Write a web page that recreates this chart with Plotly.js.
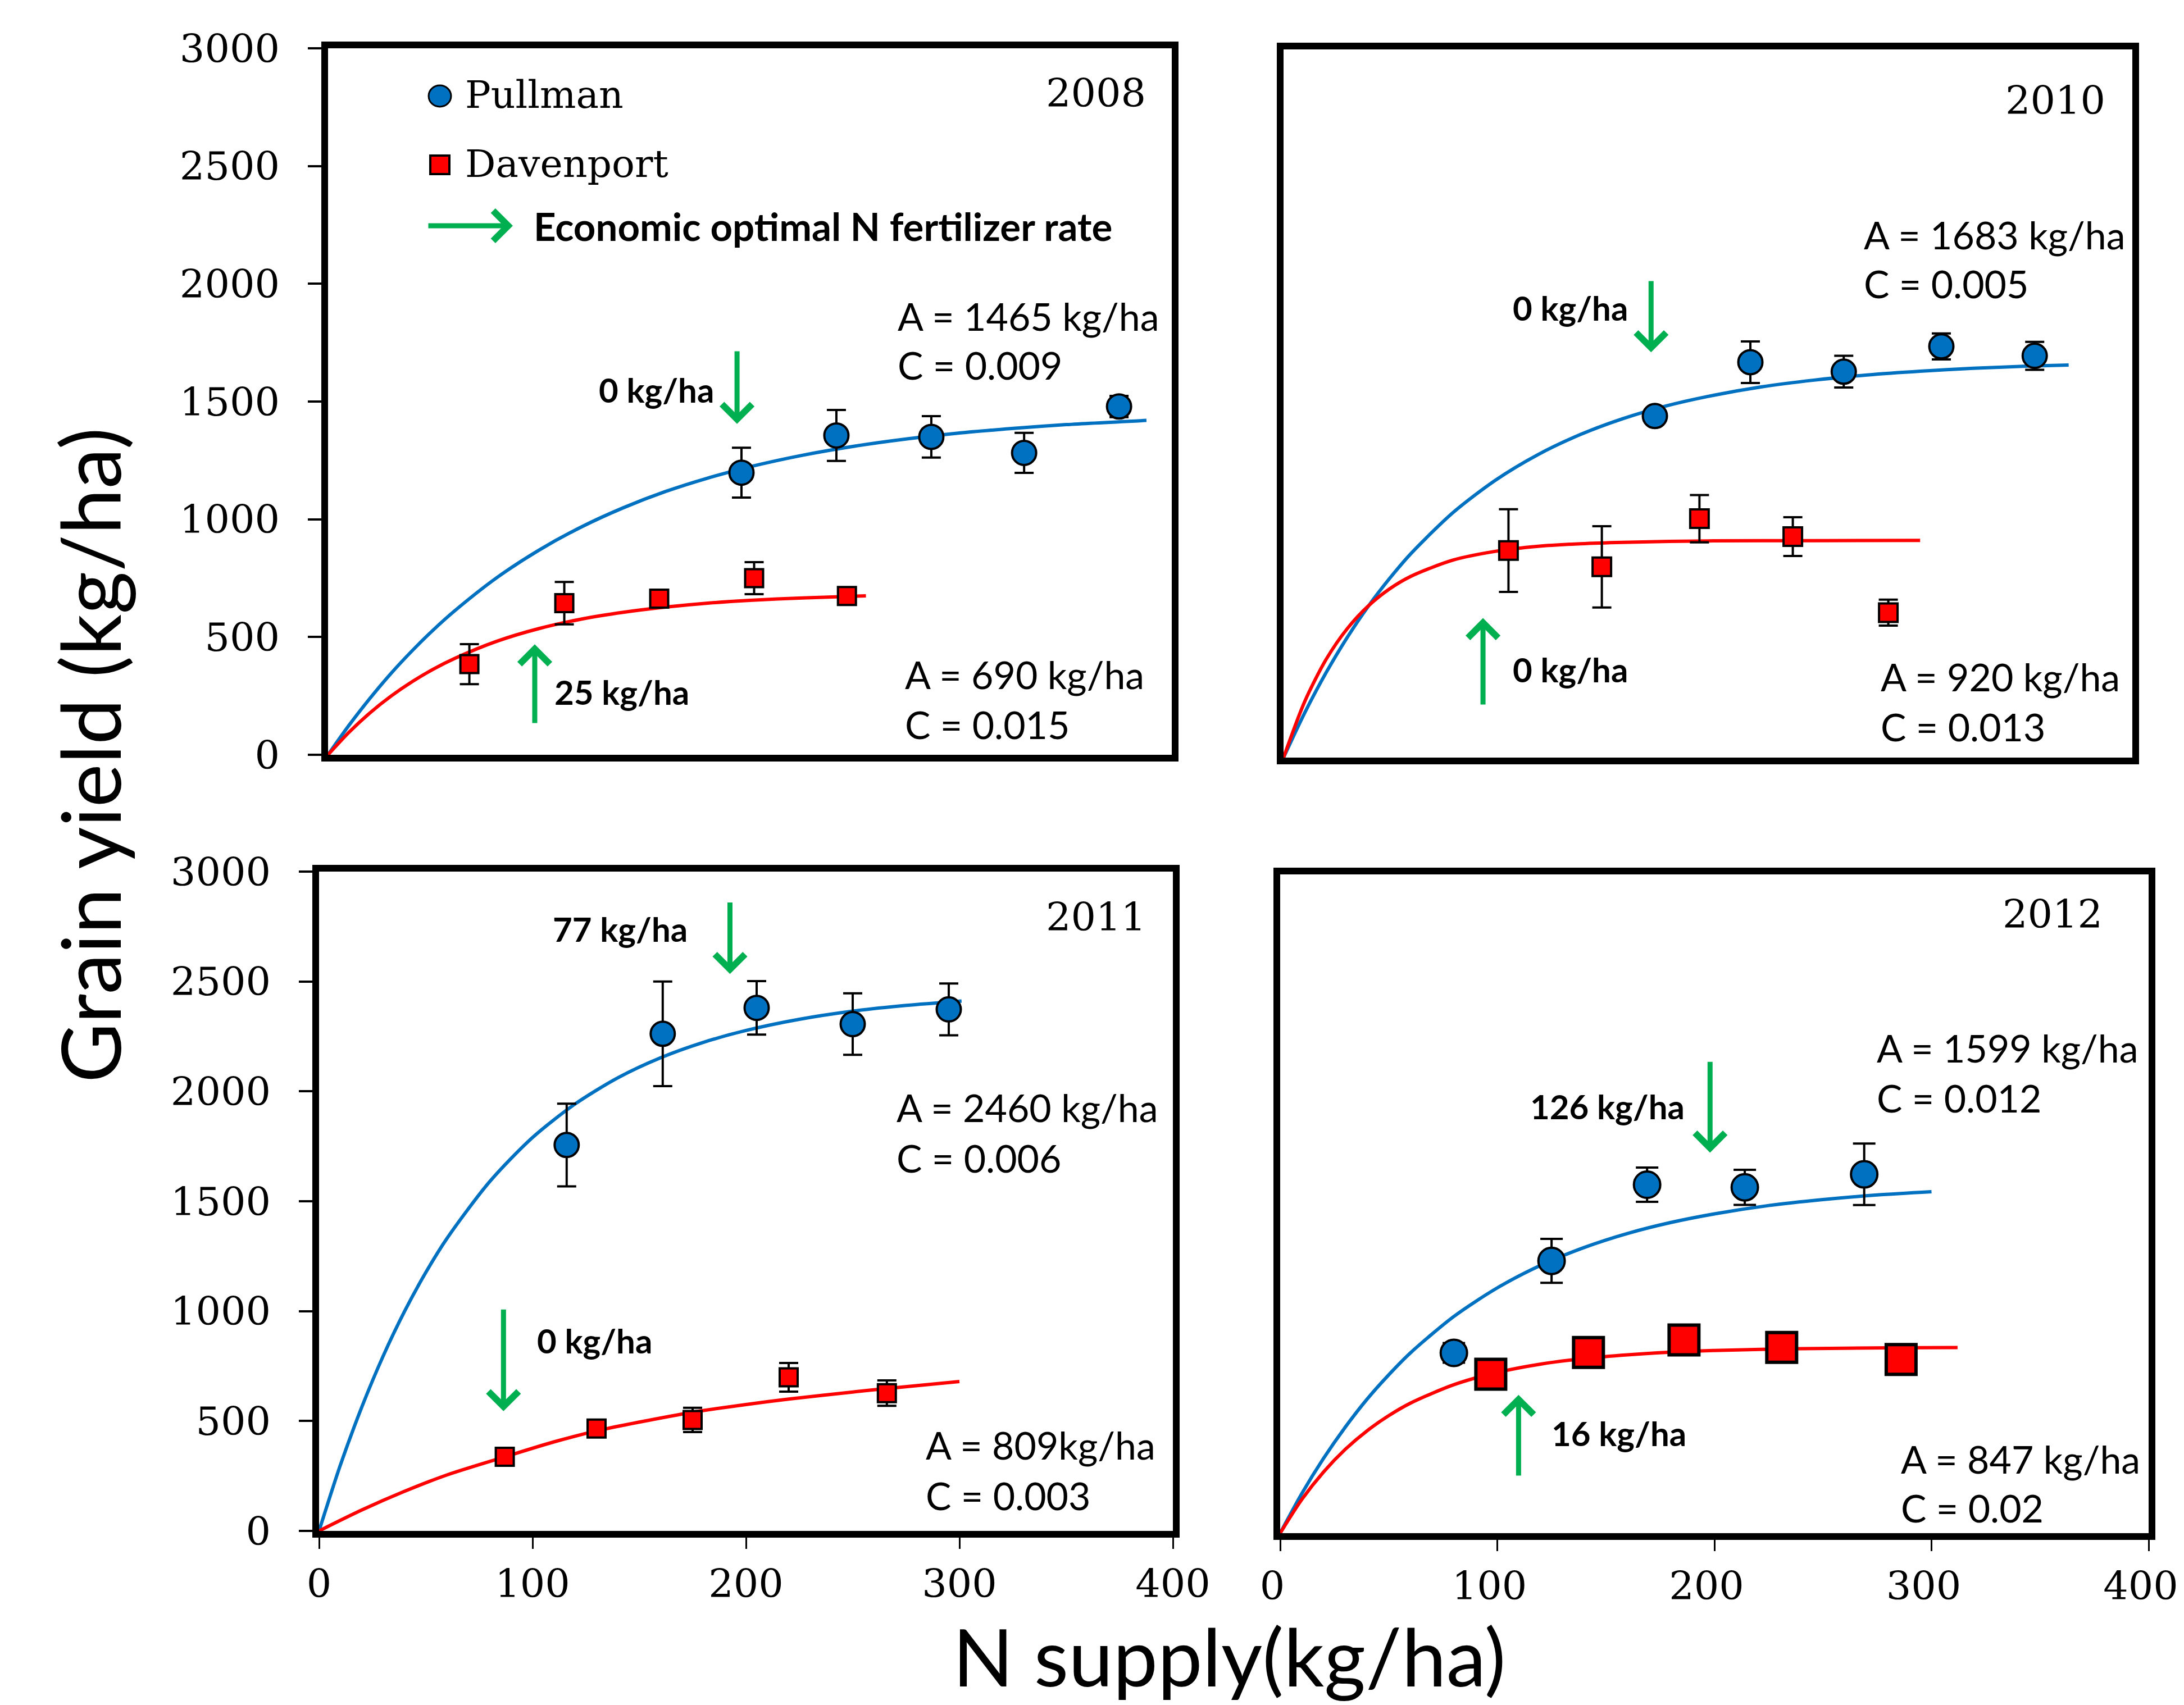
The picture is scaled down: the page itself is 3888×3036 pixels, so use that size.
<!DOCTYPE html>
<html>
<head>
<meta charset="utf-8">
<script src="https://cdn.plot.ly/plotly-3.0.1.min.js"></script>
<style>html,body{margin:0;padding:0;background:#ffffff;}</style>
</head>
<body>
<div id="chart" style="width:3888px;height:3036px;"></div>
<script>
// ---------------- DATA ----------------
const xTickVals = [0, 100, 200, 300, 400];
const yTickVals = [0, 500, 1000, 1500, 2000, 2500, 3000];
const siteNames = ['Pullman', 'Davenport'];
const years = ['2008', '2010', '2011', '2012'];

// 2008
const pul2008N = [196, 241, 286, 330, 375];
const pul2008Y = [1198, 1356, 1350, 1282, 1479];
const pul2008E = [106, 108, 88, 85, 45];
const dav2008N = [67, 112, 157, 202, 246];
const dav2008Y = [385, 644, 663, 750, 674];
const dav2008E = [85, 90, 20, 68, 15];
const fitPul2008N = [0,10,20,30,40,50,60,80,100,120,140,160,180,200,225,250,275,300,325,350,388];
const fitPul2008Y = [0,126,241,347,443,531,611,752,869,967,1049,1118,1175,1223,1272,1311,1342,1367,1386,1402,1420];
const fitDav2008N = [0,10,20,30,40,50,60,80,100,120,140,160,180,200,225,255];
const fitDav2008Y = [0,96,179,250,311,364,409,482,536,576,605,627,644,656,666,675];

// 2010
const pul2010N = [175, 220, 264, 310, 354];
const pul2010Y = [1447, 1675, 1635, 1742, 1702];
const pul2010E = [0, 88, 67, 55, 59];
const dav2010N = [106, 150, 196, 240, 285];
const dav2010Y = [877, 808, 1012, 936, 614];
const dav2010E = [175, 172, 100, 82, 55];
const fitPul2010N = [0,10,20,30,40,50,60,80,100,120,140,160,180,200,225,250,275,300,325,350,370];
const fitPul2010Y = [0,190,359,509,642,759,864,1039,1176,1284,1369,1436,1489,1530,1570,1599,1621,1637,1649,1658,1663];
const fitDav2010N = [0,10,20,30,40,50,60,80,100,120,140,160,200,250,300];
const fitDav2010Y = [0,238,415,546,643,715,768,837,874,895,906,912,918,919,920];

// 2011
const pul2011N = [116, 161, 205, 250, 295];
const pul2011Y = [1756, 2262, 2380, 2306, 2373];
const pul2011E = [188, 238, 122, 140, 118];
const dav2011N = [87, 130, 175, 220, 266];
const dav2011Y = [337, 466, 505, 699, 627];
const dav2011E = [0, 20, 55, 65, 58];
const fitPul2011N = [0,10,20,30,40,50,60,80,100,120,140,160,180,200,225,250,275,301];
const fitPul2011Y = [0,300,563,795,998,1176,1332,1590,1790,1943,2062,2153,2223,2277,2328,2365,2391,2411];
const fitDav2011N = [0,20,40,60,87,110,130,150,175,200,220,250,266,300];
const fitDav2011Y = [0,95,180,255,337,405,455,495,540,575,600,632,648,680];

// 2012
const pul2012N = [80, 125, 169, 214, 269];
const pul2012Y = [821, 1240, 1587, 1575, 1634];
const pul2012E = [45, 100, 78, 80, 140];
const dav2012N = [97, 142, 186, 231, 286];
const dav2012Y = [724, 823, 880, 846, 791];
const dav2012E = [0, 15, 0, 25, 0];
const fitPul2012N = [0,10,20,30,40,50,60,80,100,120,140,160,180,200,225,250,275,300];
const fitPul2012Y = [0,181,341,483,610,721,821,987,1117,1220,1301,1365,1415,1454,1492,1519,1540,1555];
const fitDav2012N = [0,10,20,30,40,50,60,80,100,120,140,160,180,200,240,280,312];
const fitDav2012Y = [0,154,279,382,466,535,592,676,732,770,795,812,824,832,840,844,845];

// fit parameter labels and economic optimum N labels
const params2008 = ['A = 1465 kg/ha', 'C = 0.009', 'A = 690 kg/ha', 'C = 0.015'];
const params2010 = ['A = 1683 kg/ha', 'C = 0.005', 'A = 920 kg/ha', 'C = 0.013'];
const params2011 = ['A = 2460 kg/ha', 'C = 0.006', 'A = 809kg/ha', 'C = 0.003'];
const params2012 = ['A = 1599 kg/ha', 'C = 0.012', 'A = 847 kg/ha', 'C = 0.02'];
const eonr2008 = ['0 kg/ha', '25 kg/ha'];
const eonr2010 = ['0 kg/ha', '0 kg/ha'];
const eonr2011 = ['77 kg/ha', '0 kg/ha'];
const eonr2012 = ['126 kg/ha', '16 kg/ha'];
const legendArrowText = 'Economic optimal N fertilizer rate';

// ---------------- STYLE / LAYOUT ----------------
const W = 3888, H = 3036;
const px = v => v / W;
const py = v => 1 - v / H;
const BLUE = '#0070C0', RED = '#FF0000', GREEN = '#00B050';
const SERIF = 'DejaVu Serif';
const SANS = 'Lato';
const LW = 12, HALF = 6;

const data = [];
function addPanel(n, fitP, fitD, ptsP, ptsD, cSize, sSize, sLine, capW) {
  const xa = 'x' + (n === 1 ? '' : n), ya = 'y' + (n === 1 ? '' : n);
  data.push({type:'scatter', mode:'lines', x: fitP[0], y: fitP[1], xaxis: xa, yaxis: ya,
    line:{color: BLUE, width: 6, shape:'spline', smoothing: 0.8}, hoverinfo:'skip', showlegend:false});
  data.push({type:'scatter', mode:'lines', x: fitD[0], y: fitD[1], xaxis: xa, yaxis: ya,
    line:{color: RED, width: 6, shape:'spline', smoothing: 0.8}, hoverinfo:'skip', showlegend:false});
  data.push({type:'scatter', mode:'markers', name: siteNames[0], x: ptsP[0], y: ptsP[1], xaxis: xa, yaxis: ya,
    error_y:{type:'data', array: ptsP[2], visible:true, color:'#000000', thickness:4, width:capW},
    marker:{symbol:'circle', size:cSize, color: BLUE, line:{color:'#000000', width:4}}, showlegend:false});
  data.push({type:'scatter', mode:'markers', name: siteNames[1], x: ptsD[0], y: ptsD[1], xaxis: xa, yaxis: ya,
    error_y:{type:'data', array: ptsD[2], visible:true, color:'#000000', thickness:4, width:capW},
    marker:{symbol:'square', size:sSize, color: RED, line:{color:'#000000', width:sLine}}, showlegend:false});
}
addPanel(1, [fitPul2008N, fitPul2008Y], [fitDav2008N, fitDav2008Y], [pul2008N, pul2008Y, pul2008E], [dav2008N, dav2008Y, dav2008E], 43, 32, 4, 17);
addPanel(2, [fitPul2010N, fitPul2010Y], [fitDav2010N, fitDav2010Y], [pul2010N, pul2010Y, pul2010E], [dav2010N, dav2010Y, dav2010E], 43, 33, 4, 17);
addPanel(3, [fitPul2011N, fitPul2011Y], [fitDav2011N, fitDav2011Y], [pul2011N, pul2011Y, pul2011E], [dav2011N, dav2011Y, dav2011E], 43, 32, 4, 17);
addPanel(4, [fitPul2012N, fitPul2012Y], [fitDav2012N, fitDav2012Y], [pul2012N, pul2012Y, pul2012E], [dav2012N, dav2012Y, dav2012E], 47, 53, 6, 20);

// panel boxes (line centres in pixels): [left, right, top, bottom]
const boxes = [
  [578, 2092, 80, 1350],
  [2279, 3802, 82, 1355],
  [562, 2094, 1546, 2732],
  [2273, 3831, 1551, 2736]
];
const tickFont = {family: SERIF, size: 70, color: '#000000'};

function xAxis(b, showLabels, anchor, shift) {
  return {domain:[px(b[0] + HALF), px(b[1] - HALF)], anchor: anchor, range:[0, 400],
    showline:true, mirror:true, linecolor:'#000000', linewidth:LW, showgrid:false, zeroline:false,
    tickmode:'array', tickvals: xTickVals, ticktext: xTickVals.map(String),
    ticks: showLabels ? 'outside' : '', ticklen: 20, tickwidth: 3, tickcolor:'#000000',
    showticklabels: showLabels, tickfont: tickFont, ticklabelstandoff: 2, ticklabelshift: shift || 0,
    ticklabeloverflow: 'allow', fixedrange:true};
}
function yAxis(b, showLabels, anchor) {
  return {domain:[py(b[3] - HALF), py(b[2] + HALF)], anchor: anchor, range:[0, 3000],
    showline:true, mirror:true, linecolor:'#000000', linewidth:LW, showgrid:false, zeroline:false,
    tickmode:'array', tickvals: yTickVals, ticktext: yTickVals.map(String),
    ticks: showLabels ? 'outside' : '', ticklen: 24, tickwidth: 4, tickcolor:'#000000',
    showticklabels: showLabels, tickfont: tickFont, ticklabelstandoff: 36, fixedrange:true};
}

const ann = [];
function txt(ref, x, y, text, anchor, font) {
  ann.push({xref: 'x' + ref, yref: 'y' + ref, x: x, y: y, text: text, showarrow:false,
    xanchor: anchor, yanchor:'middle', font: font});
}
function arrow(ref, x, yHead, yTail) {
  ann.push({xref: 'x' + ref, yref: 'y' + ref, x: x, y: yHead, ax: x, ay: yTail,
    axref: 'x' + ref, ayref: 'y' + ref, text:'', showarrow:true, arrowhead:4, arrowsize:1.15,
    arrowwidth:9, arrowcolor: GREEN, standoff:0, startstandoff:0});
}
const yearFont = {family: SERIF, size: 70, color:'#000000'};
const parFont = {family: SANS, size: 68, color:'#000000'};
const boldFont = {family: SANS, size: 60, color:'#000000', weight: 'bold'};

// 2008
txt('', 388.4, 2809, years[0], 'right', yearFont);
txt('', 269.6, 1863, params2008[0], 'left', parFont);
txt('', 269.6, 1656, params2008[1], 'left', parFont);
txt('', 273, 342, params2008[2], 'left', parFont);
txt('', 273, 131, params2008[3], 'left', parFont);
txt('', 183.6, 1550, eonr2008[0], 'right', boldFont);
txt('', 106.7, 268, eonr2008[1], 'left', boldFont);
arrow('', 193.9, 1405, 1717);
arrow('', 98, 469, 131);
// 2010
txt('2', 387.9, 2783, years[1], 'right', yearFont);
txt('2', 272.9, 2215, params2010[0], 'left', parFont);
txt('2', 272.9, 2009, params2010[1], 'left', parFont);
txt('2', 280.8, 343, params2010[2], 'left', parFont);
txt('2', 280.8, 133, params2010[3], 'left', parFont);
txt('2', 107.6, 1906, eonr2010[0], 'left', boldFont);
txt('2', 107.6, 374, eonr2010[1], 'left', boldFont);
arrow('2', 173.2, 1717, 2022);
arrow('2', 94, 591, 221);
// 2011
txt('3', 388, 2794, years[2], 'right', yearFont);
txt('3', 270, 1927, params2011[0], 'left', parFont);
txt('3', 270, 1699, params2011[1], 'left', parFont);
txt('3', 283.6, 391, params2011[2], 'left', parFont);
txt('3', 283.6, 163, params2011[3], 'left', parFont);
txt('3', 109, 2740, eonr2011[0], 'left', boldFont);
txt('3', 101.7, 867, eonr2011[1], 'left', boldFont);
arrow('3', 192.5, 2534, 2863);
arrow('3', 86.4, 545, 1011);
// 2012
txt('4', 379.3, 2819, years[3], 'right', yearFont);
txt('4', 274.3, 2212, params2012[0], 'left', parFont);
txt('4', 274.3, 1984, params2012[1], 'left', parFont);
txt('4', 285.3, 340, params2012[2], 'left', parFont);
txt('4', 285.3, 117, params2012[3], 'left', parFont);
txt('4', 114.5, 1944, eonr2012[0], 'left', boldFont);
txt('4', 124.4, 456, eonr2012[1], 'left', boldFont);
arrow('4', 198, 1733, 2150);
arrow('4', 109.8, 630, 258);

// legend (inside 2008 panel)
const legFont = {family: SERIF, size: 68, color:'#000000'};
ann.push({xref:'paper', yref:'paper', x: px(826), y: py(168), text: siteNames[0], showarrow:false, xanchor:'left', yanchor:'middle', font: legFont});
ann.push({xref:'paper', yref:'paper', x: px(826), y: py(291), text: siteNames[1], showarrow:false, xanchor:'left', yanchor:'middle', font: legFont});
ann.push({xref:'paper', yref:'paper', x: px(948), y: py(403), text: legendArrowText, showarrow:false, xanchor:'left', yanchor:'middle',
  font:{family: SANS, size: 69, color:'#000000', weight:'bold'}});
ann.push({xref:'paper', yref:'paper', x: px(913), y: py(402), ax: -152, ay: 0, text:'', showarrow:true,
  arrowhead:4, arrowsize:1.15, arrowwidth:9, arrowcolor: GREEN, standoff:0, startstandoff:0});

// axis titles
ann.push({xref:'paper', yref:'paper', x: px(158), y: py(1345), text:'Grain yield (kg/ha)', textangle:-90,
  showarrow:false, xanchor:'center', yanchor:'middle', font:{family: SANS, size: 146, color:'#000000'}});
ann.push({xref:'paper', yref:'paper', x: px(2188), y: py(2948), text:'N supply(kg/ha)',
  showarrow:false, xanchor:'center', yanchor:'middle', font:{family: SANS, size: 142, color:'#000000'}});

const shapes = [
  {type:'circle', xref:'paper', yref:'paper', x0: px(763), x1: px(803), y0: py(190), y1: py(152),
    fillcolor: BLUE, line:{color:'#000000', width:3}},
  {type:'rect', xref:'paper', yref:'paper', x0: px(766), x1: px(800), y0: py(310), y1: py(277),
    fillcolor: RED, line:{color:'#000000', width:4}}
];

const layout = {
  width: W, height: H, margin:{l:0, r:0, t:0, b:0}, autosize:false,
  paper_bgcolor:'#ffffff', plot_bgcolor:'#ffffff', showlegend:false,
  xaxis: xAxis(boxes[0], false, 'y'),
  yaxis: yAxis(boxes[0], true, 'x'),
  xaxis2: xAxis(boxes[1], false, 'y2'),
  yaxis2: yAxis(boxes[1], false, 'x2'),
  xaxis3: xAxis(boxes[2], true, 'y3'),
  yaxis3: yAxis(boxes[2], true, 'x3'),
  xaxis4: xAxis(boxes[3], true, 'y4', -14),
  yaxis4: yAxis(boxes[3], false, 'x4'),
  annotations: ann,
  shapes: shapes
};

Plotly.newPlot('chart', data, layout, {staticPlot:true, displayModeBar:false});
</script>
</body>
</html>
